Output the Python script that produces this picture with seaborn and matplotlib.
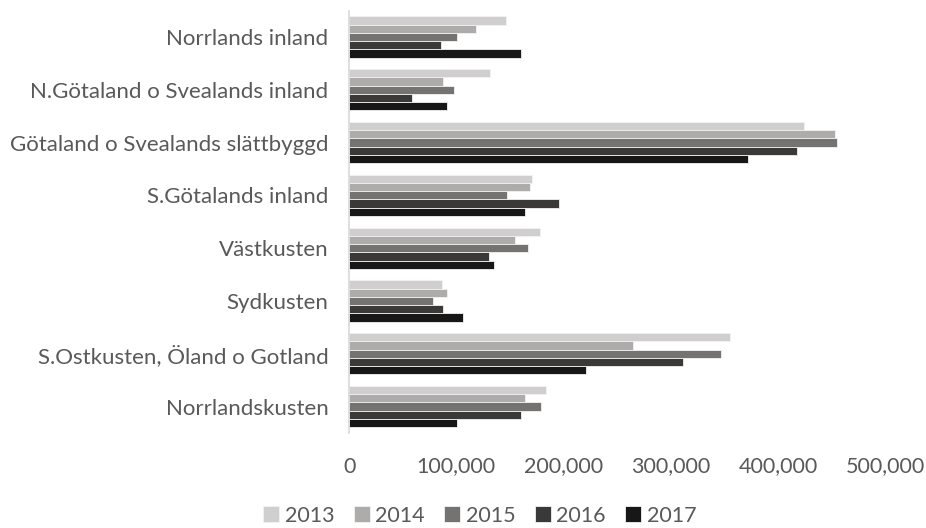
import pandas as pd
import numpy as np
import seaborn as sns
import matplotlib.pyplot as plt
from matplotlib.ticker import FuncFormatter

sns.set_theme(style='white')
plt.rcParams['font.family'] = ['Lato', 'DejaVu Sans']

# regions, top to bottom
regions = ['Norrlands inland', 'N.Götaland o Svealands inland',
           'Götaland o Svealands slättbyggd', 'S.Götalands inland',
           'Västkusten', 'Sydkusten', 'S.Ostkusten, Öland o Gotland',
           'Norrlandskusten']
years = ['2013', '2014', '2015', '2016', '2017']

v2013 = [146000, 131000, 424500, 171000, 178000, 87000, 355500, 184000]
v2014 = [118500, 88000, 453500, 168500, 155000, 91500, 264500, 164500]
v2015 = [101000, 98000, 455000, 147000, 167000, 78500, 346500, 179000]
v2016 = [85500, 59000, 418000, 195500, 130500, 88000, 311000, 160000]
v2017 = [160000, 91500, 372000, 164500, 135500, 106000, 220500, 101000]

colors = ['#d0cece', '#aeabab', '#767171', '#3b3838', '#171717']

# long format table for seaborn
df = pd.DataFrame({
    'region': regions * 5,
    'year': np.repeat(years, len(regions)),
    'value': v2013 + v2014 + v2015 + v2016 + v2017,
})

fig = plt.figure(figsize=(9.26, 5.28), dpi=100)
ax = fig.add_axes([0.377, 0.18, 0.579, 0.80])

sns.barplot(data=df, y='region', x='value', hue='year', order=regions,
            hue_order=years, palette=colors, width=0.78, orient='h',
            edgecolor='#f2f2f2', linewidth=0.6, ax=ax)

ax.set_xlim(0, 500000)
ax.set_xticks(np.arange(0, 500001, 100000))
ax.xaxis.set_major_formatter(FuncFormatter(lambda v, p: f'{int(v):,}'))
ax.set_xlabel('')
ax.set_ylabel('')

# spines: only light left axis line
for s in ['top', 'right', 'bottom']:
    ax.spines[s].set_visible(False)
ax.spines['left'].set_color('#d9d9d9')
ax.spines['left'].set_linewidth(1.2)

fs = 15.5
ax.tick_params(axis='x', length=0, pad=17, labelsize=fs, labelcolor='#595959')
ax.tick_params(axis='y', length=0, pad=15, labelsize=16, labelcolor='#595959')

ax.legend(loc='lower center', ncol=5, frameon=False,
          fontsize=fs, handlelength=0.75, handleheight=0.75,
          handletextpad=0.25, columnspacing=0.9, labelcolor='#595959',
          borderaxespad=0)
leg = ax.get_legend()
leg.set_bbox_to_anchor((0.518, -0.012), transform=fig.transFigure)

plt.savefig('out.png', dpi=100)
